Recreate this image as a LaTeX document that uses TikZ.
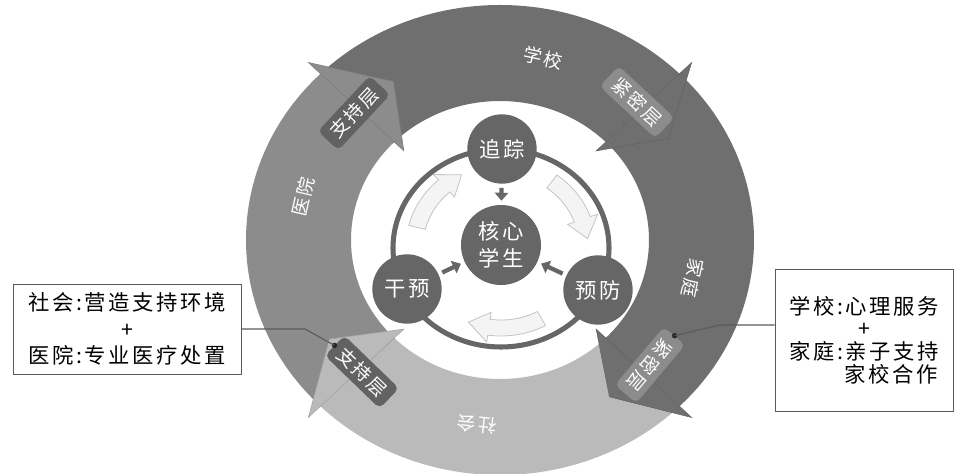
\documentclass[tikz,border=0pt]{standalone}
\usepackage{fontspec}
\usepackage{tikz}
\usetikzlibrary{arrows.meta,positioning,calc}
\newfontfamily\cjk[LetterSpace=12]{Noto Sans CJK SC}
\definecolor{bandDark}{RGB}{111,111,111}
\definecolor{bandMid}{RGB}{140,140,140}
\definecolor{bandLight}{RGB}{186,186,186}
\definecolor{tagDark}{RGB}{98,98,98}
\definecolor{tagLight}{RGB}{140,140,140}
\definecolor{nodeGrey}{RGB}{102,102,102}
\definecolor{cycleFill}{RGB}{244,244,244}
\definecolor{cycleLine}{RGB}{196,196,196}
\definecolor{noteLine}{RGB}{90,90,90}

\begin{document}
\begin{tikzpicture}[x=0.75pt,y=0.75pt,
  stage/.style={circle,fill=nodeGrey,text=white,minimum size=52pt,inner sep=0pt,
                font=\cjk\fontsize{16}{20}\selectfont},
  core/.style={circle,fill=nodeGrey,text=white,minimum size=60pt,inner sep=0pt,
               align=center,font=\cjk\fontsize{16}{20}\selectfont},
  ringtxt/.style={text=white,inner sep=0pt,font=\cjk\fontsize{14}{16}\selectfont},
  tagd/.style={rectangle,rounded corners=4pt,fill=tagDark,text=white,minimum width=57pt,
               minimum height=21pt,inner sep=1pt,font=\cjk\fontsize{14}{16}\selectfont},
  tagl/.style={tagd,fill=tagLight},
  note/.style={rectangle,draw=noteLine,fill=white,align=center,inner sep=0pt,line width=0.6pt},
  toc/.style={-{Triangle[length=6pt,width=10pt]},line width=3.2pt,draw=nodeGrey,
              shorten <=3pt,shorten >=3pt},
  cyc/.style={fill=cycleFill,draw=cycleLine,line width=0.6pt},
  lead/.style={draw=noteLine,line width=0.8pt},
  dot/.style={circle,fill=black!85,minimum size=4pt,inner sep=0pt}
]
  \useasboundingbox (-500,-234) rectangle (460,240);

  % outer ring, four bands
  \foreach \a/\b/\c in {135/45/bandDark, 45/-45/bandDark, -45/-135/bandLight, -135/-225/bandMid}
    \fill[\c] (\a:254 and 235) arc[start angle=\a, end angle=\b, x radius=254, y radius=235]
      -- (\b:149 and 139) arc[start angle=\b, end angle=\a, x radius=149, y radius=139] -- cycle;
  \foreach \a/\t/\c in {135/122/bandMid, 45/33/bandDark, -45/-57/bandDark, -135/-148/bandLight}
    \filldraw[fill=\c,draw=\c!88!black,line width=0.4pt]
      (\a:271 and 251) -- (\t:201 and 187) -- (\a:136 and 126) -- cycle;

  \node[ringtxt,rotate=-12]  (ringSchool)  at (43,182)   {学校};
  \node[ringtxt,rotate=-102] (ringHome)    at (193,-38)  {家庭};
  \node[ringtxt,rotate=174]  (ringSociety) at (-23,-185) {社会};
  \node[ringtxt,rotate=77]   (ringHosp)    at (-197,43)  {医院};

  \node[tagd,rotate=47]   (tagHosp)   at (-146,127) {支持层};
  \node[tagl,rotate=-43]  (tagSchool) at (137,138)  {紧密层};
  \node[tagl,rotate=-130] (tagHome)   at (150,-125) {紧密层};
  \node[tagd,rotate=-44]  (tagSoc)    at (-138,-132) {支持层};

  % inner cycle
  \draw[nodeGrey,line width=3.8pt] (1,-8) ellipse [x radius=108, y radius=99];
  \begin{scope}[shift={(1,-7)}]
    \foreach \s/\e in {54/6, -62/-112, 166/117}{
      \pgfmathsetmacro\h{\e+14}
      \draw[cyc] (\s:95 and 89) arc[start angle=\s, end angle=\h, x radius=95, y radius=89]
        -- (\h:103 and 96) -- (\e:87 and 81) -- (\h:71 and 66) -- (\h:78 and 73)
        arc[start angle=\h, end angle=\s, x radius=78, y radius=73] -- cycle;
    }
  \end{scope}

  \node[core]  (core)  at (1,-5)   {核心\\学生};
  \node[stage] (track) at (2,91)   {追踪};
  \node[stage] (help)  at (-93,-49) {干预};
  \node[stage] (guard) at (98,-50) {预防};

  \draw[toc] (track) -- (core);
  \draw[toc] (help) -- (core);
  \draw[toc] (guard) -- (core);

  % notes
  \node[note,minimum width=171pt,minimum height=67.5pt,font=\cjk\fontsize{16}{20}\selectfont]
    (noteSoc) at (-373,-89) {社会:营造支持环境\\+\\医院:专业医疗处置};
  \node[note,minimum width=133.5pt,minimum height=106.5pt,font=\cjk\fontsize{16}{17}\selectfont]
    (noteHome) at (364,-100) {学校:心理服务\\+\\家庭:亲子支持\\\hphantom{家庭:}家校合作};

  \node[dot] (dotSoc) at (tagSoc.west) {};
  \node[dot] (dotHome) at (tagHome.west) {};
  \coordinate (bendSoc) at (-195,-89);
  \coordinate (bendHome) at (220,-85);
  \draw[lead] (dotSoc.center) -- (bendSoc) -- (noteSoc.east);
  \draw[lead] (dotHome.center) -- (bendHome) -- (bendHome -| noteHome.west);
\end{tikzpicture}
\end{document}
